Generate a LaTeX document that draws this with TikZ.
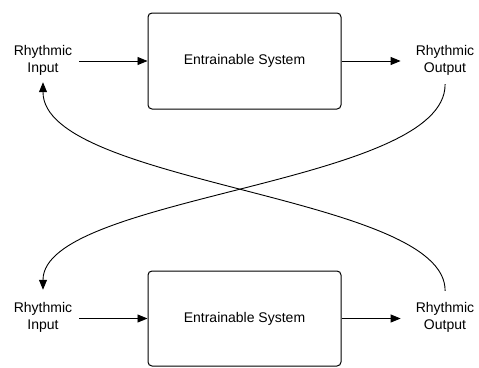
\documentclass[tikz,border=0pt]{standalone}
\usepackage{fontspec}
\setmainfont{Liberation Sans}
\usetikzlibrary{arrows.meta}
\begin{document}
\begin{tikzpicture}[x=1pt,y=-1pt,
  sysbox/.style={draw, line width=1pt, rounded corners=4pt, minimum width=193pt, minimum height=96pt, inner sep=0pt, font=\fontsize{14}{17}\selectfont},
  lbl/.style={align=center, inner sep=0pt, font=\fontsize{14}{17}\selectfont},
  arr/.style={-{Triangle[length=10pt,width=8pt]}, line width=0.9pt}]
\useasboundingbox (0,0) rectangle (479,367);
\node[sysbox] (box1) at (244.5,61) {Entrainable System};
\node[sysbox, minimum height=95pt] (box2) at (244.5,318.5) {Entrainable System};
\node[lbl] (in1) at (43,60) {Rhythmic\\Input};
\node[lbl] (out1) at (445,60) {Rhythmic\\Output};
\node[lbl] (in2) at (43,317) {Rhythmic\\Input};
\node[lbl] (out2) at (445,317) {Rhythmic\\Output};
\draw[arr, shorten <=7pt] (in1.east |- box1.west) -- (box1.west);
\draw[arr, shorten >=15pt] (box1.east) -- (out1.west |- box1.east);
\draw[arr, shorten <=7pt] (in2.east |- box2.west) -- (box2.west);
\draw[arr, shorten >=15pt] (box2.east) -- (out2.west |- box2.east);
\draw[arr, shorten <=9pt, shorten >=12pt] (out1.south) .. controls (446,185) and (43,195) .. (in2.north);
\draw[arr, shorten <=11pt, shorten >=7pt] (out2.north) .. controls (446,195) and (43,185) .. (in1.south);
\end{tikzpicture}
\end{document}
